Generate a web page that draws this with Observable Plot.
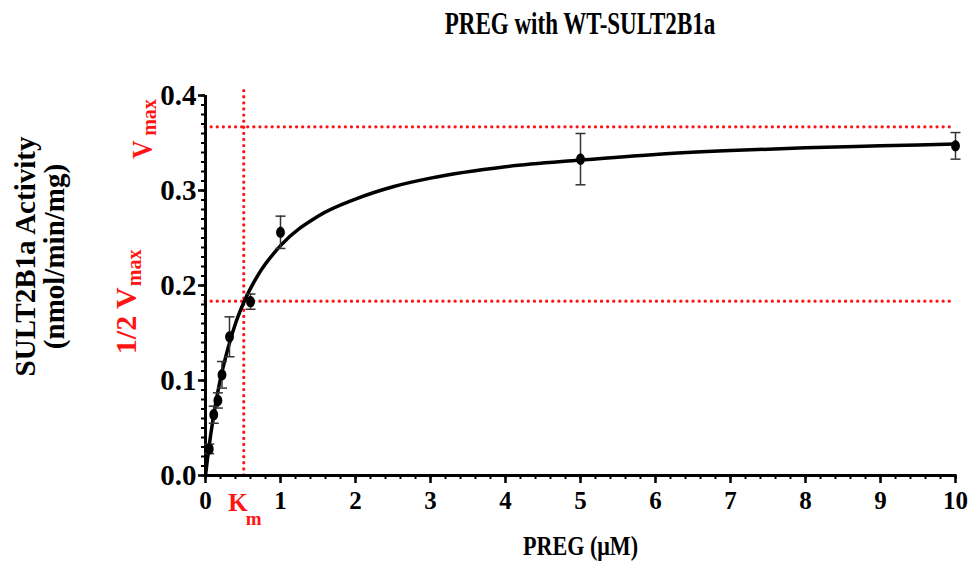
<!DOCTYPE html>
<html><head><meta charset="utf-8">
<script src="https://cdn.jsdelivr.net/npm/d3@7"></script>
<script src="https://cdn.jsdelivr.net/npm/@observablehq/plot@0.6"></script>
<style>
body{margin:0;background:#fff;}
#wrap{position:relative;width:969px;}
#title{position:relative;height:60px;}
#title span{position:absolute;left:580px;top:7px;font:bold 32px "Liberation Serif";transform:translateX(-50%) scaleX(0.72);white-space:nowrap;line-height:1;color:#000;}
</style></head><body>
<div id="wrap"><div id="title"><span>PREG with WT-SULT2B1a</span></div><div id="chart"></div></div>
<script>
// measured points (PREG µM, activity nmol/min/mg, error)
const concentration = [0.05, 0.11, 0.165, 0.22, 0.32, 0.6, 1, 5, 10];
const activity      = [0.028, 0.064, 0.079, 0.106, 0.146, 0.183, 0.256, 0.333, 0.347];
const errorBar      = [0.005, 0.009, 0.008, 0.014, 0.021, 0.008, 0.017, 0.027, 0.014];

// fitted curve
const fitX = [0, 0.05, 0.1, 0.15, 0.2, 0.3, 0.4, 0.52, 0.7, 1, 1.5, 2, 2.5, 3, 4, 5, 6, 7, 8, 9, 10];
const fitY = [0, 0.032, 0.059, 0.082, 0.102, 0.134, 0.160, 0.184, 0.211, 0.242, 0.273, 0.291, 0.304, 0.313, 0.325, 0.332, 0.338, 0.342, 0.345, 0.347, 0.349];

// kinetic guides
const vmax = 0.367;
const halfVmax = 0.1835;
const km = 0.51;

// ticks
const xTicks = [0,1,2,3,4,5,6,7,8,9,10];
const yTicks = [0, 0.1, 0.2, 0.3, 0.4];
const xMinor = d3.range(0, 10.001, 0.2);
const yMinor = d3.range(0, 0.4001, 0.01);

const points = concentration.map((x, i) => ({x, y: activity[i], e: errorBar[i]}));
const fit = fitX.map((x, i) => ({x, y: fitY[i]}));

const red = "#ff1414";
const ellipse = {draw(ctx){const rx=4.4, ry=5.6, k=0.5523;
  ctx.moveTo(rx,0); ctx.bezierCurveTo(rx,ry*k,rx*k,ry,0,ry); ctx.bezierCurveTo(-rx*k,ry,-rx,ry*k,-rx,0);
  ctx.bezierCurveTo(-rx,-ry*k,-rx*k,-ry,0,-ry); ctx.bezierCurveTo(rx*k,-ry,rx,-ry*k,rx,0); ctx.closePath();}};
const cap = {draw(ctx){ctx.moveTo(-5,0); ctx.lineTo(5,0);}};
const dotted = {stroke: red, strokeWidth: 3.2, strokeDasharray: "0.1 6", strokeLinecap: "round"};

const chart = Plot.plot({
  width: 969, height: 502,
  marginLeft: 205, marginRight: 14, marginTop: 35, marginBottom: 87,
  x: {domain: [0, 10]},
  y: {domain: [0, 0.4]},
  style: {fontFamily: "Liberation Serif", fontWeight: "bold", color: "#000", background: "#fff", overflow: "visible"},
  marks: [
    Plot.axisY(yMinor, {tickSize: 4, strokeWidth: 2, tickFormat: () => "", label: null}),
    Plot.axisY(yTicks, {tickSize: 7, tickPadding: 2, strokeWidth: 2.5, tickFormat: d3.format(".1f"), fontSize: 29, label: null}),
    Plot.axisX(xMinor, {tickSize: 4, strokeWidth: 2, tickFormat: () => "", label: null}),
    Plot.axisX(xTicks, {tickSize: 8, tickPadding: 8, strokeWidth: 2.5, fontSize: 25, label: null}),
    Plot.ruleY([halfVmax, vmax], {x1: 0, x2: 10, ...dotted}),
    Plot.ruleX([km], {y1: 0, y2: 0.405, ...dotted}),
    Plot.ruleX([0], {y1: 0, y2: 0.4, strokeWidth: 3}),
    Plot.ruleY([0], {x1: 0, x2: 10.02, strokeWidth: 3}),
    Plot.line(fit, {x: "x", y: "y", curve: "monotone-x", stroke: "#000", strokeWidth: 3.5}),
    Plot.ruleX(points, {x: "x", y1: d => d.y - d.e, y2: d => d.y + d.e, stroke: "#333", strokeWidth: 1.5}),
    Plot.dot(points, {x: "x", y: d => d.y + d.e, symbol: cap, stroke: "#333", strokeWidth: 1.5, fill: "none"}),
    Plot.dot(points, {x: "x", y: d => d.y - d.e, symbol: cap, stroke: "#333", strokeWidth: 1.5, fill: "none"}),
    Plot.dot(points, {x: "x", y: "y", symbol: ellipse, fill: "#000", stroke: "none"}),
    // axis titles
    Plot.text(["SULT2B1a Activity\n(nmol/min/mg)"], {frameAnchor: "left", text: d => d, rotate: -90, textAnchor: "middle", lineAnchor: "middle", dx: -165, dy: -29, fontSize: 29, lineHeight: 0.97, fill: "#000"}),
    Plot.text(["PREG (\u03bcM)"], {frameAnchor: "bottom", text: d => d, textAnchor: "middle", lineAnchor: "middle", dy: 71, fontSize: 28, fill: "#000"}),
    // red annotations
    Plot.text([vmax], {y: d => d, frameAnchor: "left", text: () => "V", rotate: -90, textAnchor: "start", lineAnchor: "middle", dx: -63.6, dy: 32, fontSize: 30, fill: red}),
    Plot.text([vmax], {y: d => d, frameAnchor: "left", text: () => "max", rotate: -90, textAnchor: "start", lineAnchor: "middle", dx: -56.4, dy: 9, fontSize: 20, fill: red}),
    Plot.text([halfVmax], {y: d => d, frameAnchor: "left", text: () => "1/2 V", rotate: -90, textAnchor: "start", lineAnchor: "middle", dx: -79.6, dy: 53, fontSize: 30, fill: red}),
    Plot.text([halfVmax], {y: d => d, frameAnchor: "left", text: () => "max", rotate: -90, textAnchor: "start", lineAnchor: "middle", dx: -71.4, dy: -15, fontSize: 20, fill: red}),
    Plot.text([km], {x: d => d, frameAnchor: "bottom", text: () => "K", textAnchor: "end", lineAnchor: "middle", dx: 4, dy: 27, fontSize: 25, fill: red}),
    Plot.text([km], {x: d => d, frameAnchor: "bottom", text: () => "m", textAnchor: "start", lineAnchor: "middle", dx: 2, dy: 43, fontSize: 19, fill: red})
  ]
});
document.getElementById("chart").appendChild(chart);

// condense a few labels to match the narrow typeface of the original
const squeeze = {"PREG (\u03bcM)": 0.79, "V": 0.85};
d3.select(chart).selectAll("text").each(function() {
  const s = squeeze[this.textContent];
  if (s) {
    const t = this.getAttribute("transform") || "";
    this.setAttribute("transform", t + ` scale(${s},1)`);
  }
});
</script>
</body></html>
